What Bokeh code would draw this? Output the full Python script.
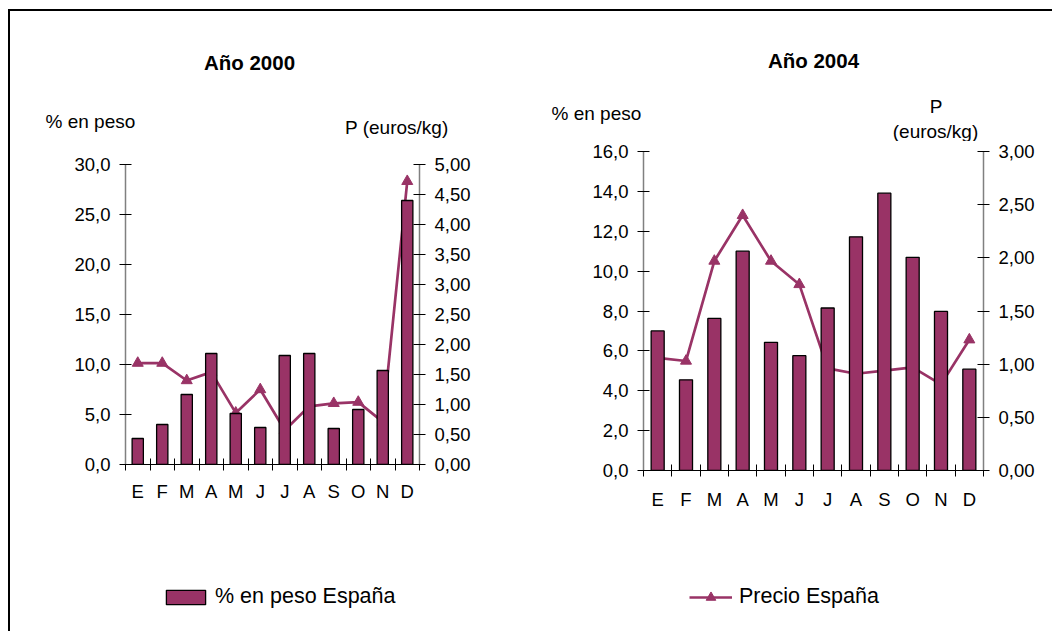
from bokeh.plotting import figure
from bokeh.models import (Range1d, LinearAxis, FixedTicker, Label, Legend,
                          LegendItem, ColumnDataSource)
from bokeh.layouts import row, column
from bokeh.embed import file_html
from bokeh.resources import INLINE

# ---------------- data ----------------
months = ["E", "F", "M", "A", "M", "J", "J", "A", "S", "O", "N", "D"]
peso_2000 = [2.6, 4.0, 7.0, 11.1, 5.1, 3.7, 10.9, 11.1, 3.6, 5.5, 9.4, 26.4]
precio_2000 = [1.69, 1.69, 1.40, 1.54, 0.86, 1.25, 0.57, 0.97, 1.02, 1.04, 0.71, 4.72]
peso_2004 = [7.0, 4.55, 7.63, 11.0, 6.43, 5.76, 8.15, 11.72, 13.91, 10.69, 7.98, 5.08]
precio_2004 = [1.06, 1.03, 1.97, 2.40, 1.97, 1.75, 0.96, 0.91, 0.94, 0.97, 0.81, 1.23]

peso_ticks_2000 = [0, 5, 10, 15, 20, 25, 30]
precio_ticks_2000 = [0, 0.5, 1, 1.5, 2, 2.5, 3, 3.5, 4, 4.5, 5]
peso_ticks_2004 = [0, 2, 4, 6, 8, 10, 12, 14, 16]
precio_ticks_2004 = [0, 0.5, 1, 1.5, 2, 2.5, 3]

titles = ["Año 2000", "Año 2004"]
peso_axis_title = "% en peso"
precio_axis_title = "P  (euros/kg)"
bar_label = "% en peso España"
line_label = "Precio España"

COLOR = "#993366"
FONT = "Liberation Sans"
TICK_FS = "18.5px"
W_ALL = 1042


def fmt(ticks, nd):
    return {t: f"{t:.{nd}f}".replace(".", ",") for t in ticks}


def make_chart(peso, precio, pticks, prticks, w, h, borders, xstand):
    n = len(months)
    centers = [i + 0.5 for i in range(n)]
    p = figure(width=w, height=h, output_backend="svg", toolbar_location=None,
               x_range=Range1d(0, n), y_range=Range1d(pticks[0], pticks[-1]),
               min_border_left=borders[0], min_border_right=borders[1],
               min_border_top=borders[2], min_border_bottom=borders[3],
               x_axis_type=None, y_axis_type=None)
    p.outline_line_color = None
    p.xgrid.visible = False
    p.ygrid.visible = False
    p.background_fill_color = "white"
    p.border_fill_color = "white"
    p.extra_y_ranges = {"precio": Range1d(prticks[0], prticks[-1])}

    src = ColumnDataSource(dict(x=centers, peso=peso, precio=precio))

    # line first (bars are drawn over it, as in the reference)
    p.line("x", "precio", source=src, y_range_name="precio",
           line_color=COLOR, line_width=2.7)
    p.scatter("x", "precio", source=src, y_range_name="precio",
              marker="triangle", size=11, fill_color=COLOR, line_color=COLOR)
    p.vbar(x="x", top="peso", width=0.46, source=src, fill_color=COLOR,
           line_color="black", line_width=1.3)

    ly = LinearAxis(ticker=FixedTicker(ticks=pticks))
    ly.major_label_overrides = fmt(pticks, 1)
    ry = LinearAxis(y_range_name="precio", ticker=FixedTicker(ticks=prticks))
    ry.major_label_overrides = fmt(prticks, 2)
    for ax in (ly, ry):
        ax.axis_line_color = "#808080"
        ax.axis_line_width = 1.5
        ax.major_tick_line_color = "black"
        ax.major_tick_in = 6
        ax.major_tick_out = 6
        ax.minor_tick_line_color = None
        ax.major_label_text_font = FONT
        ax.major_label_text_font_size = TICK_FS
        ax.major_label_text_color = "black"
        ax.major_label_standoff = 9
    p.add_layout(ly, "left")
    p.add_layout(ry, "right")

    xa = LinearAxis(ticker=FixedTicker(ticks=centers,
                                       minor_ticks=list(range(n + 1))))
    xa.major_label_overrides = {c: m for c, m in zip(centers, months)}
    xa.major_tick_line_color = None
    xa.major_tick_in = 0
    xa.major_tick_out = 0
    xa.minor_tick_line_color = "black"
    xa.minor_tick_in = 6
    xa.minor_tick_out = 6
    xa.axis_line_color = "black"
    xa.axis_line_width = 1.2
    xa.major_label_text_font = FONT
    xa.major_label_text_font_size = TICK_FS
    xa.major_label_text_color = "black"
    xa.major_label_standoff = xstand
    p.add_layout(xa, "below")
    return p


# ---------------- header strip with titles and axis captions ----------------
HDR_H = 130
hdr = figure(width=W_ALL, height=HDR_H, output_backend="svg",
             toolbar_location=None, x_range=Range1d(0, W_ALL),
             y_range=Range1d(HDR_H, 0), min_border=0,
             x_axis_type=None, y_axis_type=None)
hdr.outline_line_color = None
hdr.xgrid.visible = False
hdr.ygrid.visible = False


def txt(fig, x, y, s, size="19px", bold=False, align="center"):
    fig.add_layout(Label(x=x, y=y, text=s, text_font=FONT, text_font_size=size,
                         text_font_style="bold" if bold else "normal",
                         text_align=align, text_baseline="middle",
                         text_color="black"))


txt(hdr, 239, 51, titles[0], "20.5px", True)
txt(hdr, 35, 110, peso_axis_title, align="left")
txt(hdr, 389, 116, precio_axis_title)
txt(hdr, 803, 49, titles[1], "20.5px", True)
txt(hdr, 541, 101.5, peso_axis_title, align="left")
txt(hdr, 925.5, 95, "P")
txt(hdr, 925, 120, "(euros/kg)")

# ---------------- charts ----------------
CH_H = 407
p1 = make_chart(peso_2000, precio_2000, peso_ticks_2000, precio_ticks_2000,
                520, CH_H, (115, 111, 23, 84), 10)
p2 = make_chart(peso_2004, precio_2004, peso_ticks_2004, precio_ticks_2004,
                W_ALL - 520, CH_H, (113, 69, 10, 78), 12)

# ---------------- legend strip ----------------
LEG_H = 83
p3 = figure(width=W_ALL, height=LEG_H, output_backend="svg",
            toolbar_location=None, x_range=Range1d(0, W_ALL),
            y_range=Range1d(0, LEG_H), min_border=0,
            x_axis_type=None, y_axis_type=None)
p3.outline_line_color = None
p3.xgrid.visible = False
p3.ygrid.visible = False
nan = float("nan")
dummy = ColumnDataSource(dict(x=[nan], y=[nan]))
r_bar = p3.vbar(x="x", top="y", width=1, source=dummy, fill_color=COLOR,
                line_color="black", line_width=1.3)
r_line = p3.line("x", "y", source=dummy, line_color=COLOR, line_width=2.7)
r_mark = p3.scatter("x", "y", source=dummy, marker="triangle", size=9,
                    fill_color=COLOR, line_color=COLOR)

common = dict(padding=0, margin=0, spacing=0, label_text_font=FONT,
              label_text_font_size="21.5px", label_text_color="black",
              label_height=15, border_line_color=None,
              background_fill_alpha=0)
leg1 = Legend(items=[LegendItem(label=bar_label, renderers=[r_bar])],
              location=(151, 22), glyph_width=49, glyph_height=18,
              label_standoff=5, **common)
leg2 = Legend(items=[LegendItem(label=line_label, renderers=[r_line, r_mark])],
              location=(679, 22), glyph_width=43, glyph_height=24,
              label_standoff=7, **common)
p3.add_layout(leg1)
p3.add_layout(leg2)

layout = column(hdr, row(column(p1), column(p2)), p3,
                styles={"margin-left": "8px", "margin-top": "9px",
                        "border-left": "2px solid black",
                        "border-top": "2px solid black"})

open("out.html", "w").write(file_html(layout, INLINE))
